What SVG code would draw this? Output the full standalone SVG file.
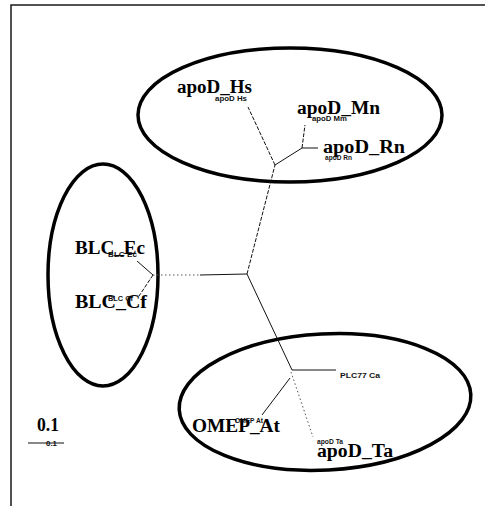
<svg xmlns="http://www.w3.org/2000/svg" width="485" height="506" viewBox="0 0 485 506">
  <style>
    .frame { fill: none; stroke: #1a1a1a; stroke-width: 1.5; }
    .cluster { fill: none; stroke: #000; stroke-width: 3.5; }
    .branch { fill: none; stroke: #111; stroke-width: 1; }
    .dash { stroke-dasharray: 4 1.5; }
    .dot { stroke-dasharray: 1.5 2.5; stroke: #555; }
    .big { font-family: "Liberation Serif", "Times New Roman", serif; font-weight: bold; font-size: 18.5px; fill: #000; }
    .small { font-family: "Liberation Sans", Arial, sans-serif; font-weight: bold; font-size: 7.5px; fill: #111; }
  </style>
  <rect width="485" height="506" fill="#fff"/>

  <!-- page frame -->
  <g id="frame">
    <path class="frame" d="M11 506 V5 H485"/>
  </g>

  <!-- cluster outlines -->
  <g id="cluster-apoD">
    <ellipse class="cluster" cx="290" cy="115" rx="152" ry="67"/>
  </g>
  <g id="cluster-BLC">
    <ellipse class="cluster" cx="103" cy="275" rx="55" ry="111"/>
  </g>
  <g id="cluster-lower">
    <ellipse class="cluster" cx="325" cy="402" rx="146" ry="68" transform="rotate(-3 325 402)"/>
  </g>

  <!-- tree branches -->
  <g id="connectors">
    <line class="branch" x1="200" y1="275" x2="247" y2="274"/>
    <line class="branch dot" x1="153" y1="275" x2="200" y2="275"/>
    <line class="branch" x1="153" y1="275" x2="137" y2="261"/>
    <line class="branch dash" x1="153" y1="275" x2="139" y2="296"/>
    <line class="branch dash" x1="247" y1="274" x2="275" y2="165"/>
    <line class="branch dash" x1="275" y1="165" x2="248" y2="107"/>
    <line class="branch" x1="275" y1="165" x2="302" y2="148"/>
    <line class="branch dash" x1="302" y1="148" x2="305" y2="125"/>
    <line class="branch" x1="302" y1="148" x2="318" y2="148"/>
    <line class="branch" x1="247" y1="274" x2="292" y2="370"/>
    <line class="branch" x1="292" y1="370" x2="336" y2="370"/>
    <line class="branch dot" x1="291" y1="372" x2="313" y2="437"/>
    <line class="branch" x1="290" y1="378" x2="262" y2="415"/>
    <line class="branch" x1="28" y1="443" x2="64" y2="443"/>
  </g>

  <!-- leaf labels -->
  <g id="apoD_Hs">
    <text class="big" x="177" y="93" textLength="75" lengthAdjust="spacingAndGlyphs">apoD_Hs</text>
    <text class="small" x="215" y="101" textLength="32" lengthAdjust="spacingAndGlyphs">apoD Hs</text>
  </g>
  <g id="apoD_Mn">
    <text class="big" x="297" y="114" textLength="83" lengthAdjust="spacingAndGlyphs">apoD_Mn</text>
    <text class="small" x="312" y="121" textLength="35" lengthAdjust="spacingAndGlyphs">apoD Mm</text>
  </g>
  <g id="apoD_Rn">
    <text class="big" x="323" y="153" textLength="82" lengthAdjust="spacingAndGlyphs">apoD_Rn</text>
    <text class="small" x="325" y="160" textLength="27" lengthAdjust="spacingAndGlyphs">apoD Rn</text>
  </g>
  <g id="BLC_Ec">
    <text class="big" x="75" y="254" textLength="70" lengthAdjust="spacingAndGlyphs">BLC_Ec</text>
    <text class="small" x="108" y="257" textLength="29" lengthAdjust="spacingAndGlyphs">BLC Ec</text>
  </g>
  <g id="BLC_Cf">
    <text class="big" x="75" y="308" textLength="72" lengthAdjust="spacingAndGlyphs">BLC_Cf</text>
    <text class="small" x="108" y="301" textLength="25" lengthAdjust="spacingAndGlyphs">BLC Cf</text>
  </g>
  <g id="PLC77_Ca">
    <text class="small" x="340" y="378" textLength="40" lengthAdjust="spacingAndGlyphs">PLC77 Ca</text>
  </g>
  <g id="OMEP_At">
    <text class="big" x="192" y="432" textLength="88" lengthAdjust="spacingAndGlyphs">OMEP_At</text>
    <text class="small" x="235" y="423" textLength="28" lengthAdjust="spacingAndGlyphs">OMEP At</text>
  </g>
  <g id="apoD_Ta">
    <text class="big" x="317" y="457" textLength="76" lengthAdjust="spacingAndGlyphs">apoD_Ta</text>
    <text class="small" x="317" y="444" textLength="26" lengthAdjust="spacingAndGlyphs">apoD Ta</text>
  </g>

  <!-- scale bar -->
  <g id="scale">
    <text class="big" x="37" y="431" textLength="22" lengthAdjust="spacingAndGlyphs">0.1</text>
    <text class="small" x="46" y="446" textLength="11" lengthAdjust="spacingAndGlyphs">0.1</text>
  </g>
</svg>
